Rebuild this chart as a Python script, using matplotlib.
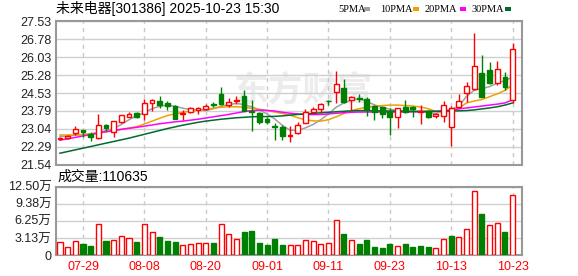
import matplotlib
matplotlib.use("Agg")
import matplotlib.pyplot as plt
from matplotlib.patches import Rectangle
import numpy as np

plt.rcParams["font.family"] = ["Liberation Sans", "Noto Sans CJK SC"]

title = "未来电器[301386] 2025-10-23 15:30"
vol_label = "成交量:110635"

dates = ["07-24", "07-25", "07-28", "07-29", "07-30", "07-31", "08-01", "08-04",
         "08-05", "08-06", "08-07", "08-08", "08-11", "08-12", "08-13", "08-14",
         "08-15", "08-18", "08-19", "08-20", "08-21", "08-22", "08-25", "08-26",
         "08-27", "08-28", "08-29", "09-01", "09-02", "09-03", "09-04", "09-05",
         "09-08", "09-09", "09-10", "09-11", "09-12", "09-15", "09-16", "09-17",
         "09-18", "09-19", "09-22", "09-23", "09-24", "09-25", "09-26", "09-29",
         "09-30", "10-09", "10-10", "10-13", "10-14", "10-15", "10-16", "10-17",
         "10-20", "10-21", "10-22", "10-23"]
tick_dates = ["07-29", "08-08", "08-20", "09-01", "09-11", "09-23", "10-13", "10-23"]

opens = [22.61, 22.67, 22.85, 22.97, 22.82, 22.66, 23.19, 22.92, 23.31, 23.55,
         23.68, 23.64, 24.10, 24.20, 24.10, 23.99, 23.65, 23.73, 23.83, 23.87,
         24.07, 24.48, 24.03, 24.18, 24.41, 23.78, 23.69, 23.43, 23.14, 23.11,
         22.74, 22.85, 23.30, 23.76, 23.85, 24.21, 24.56, 24.73, 24.24, 24.34,
         24.27, 23.99, 23.97, 23.80, 23.55, 23.97, 23.97, 23.74, 23.77, 23.58,
         23.56, 23.12, 23.96, 24.52, 24.69, 25.38, 25.50, 24.97, 25.19, 24.24]
highs = [22.71, 22.80, 23.16, 23.00, 22.89, 23.64, 23.22, 23.38, 23.63, 23.73,
         23.74, 24.28, 24.28, 24.41, 24.22, 24.02, 23.83, 23.97, 23.97, 24.08,
         24.14, 24.78, 24.33, 24.40, 24.68, 24.23, 23.74, 23.52, 23.30, 23.18,
         23.17, 23.31, 23.85, 23.96, 24.13, 24.26, 25.45, 25.12, 24.41, 24.49,
         24.35, 24.02, 23.99, 23.90, 23.92, 24.24, 23.99, 24.03, 23.83, 23.71,
         24.20, 24.00, 24.48, 24.99, 27.03, 26.12, 25.82, 25.87, 25.43, 26.64]
lows = [22.57, 22.60, 22.78, 22.70, 22.55, 22.63, 22.96, 22.71, 23.29, 23.52,
        23.47, 23.40, 23.80, 23.90, 23.83, 23.44, 23.41, 23.69, 23.64, 23.83,
        23.97, 24.05, 23.97, 24.08, 23.78, 22.93, 23.26, 23.26, 22.56, 22.58,
        22.48, 22.82, 23.27, 23.71, 23.69, 24.03, 24.13, 24.10, 23.83, 24.17,
        23.58, 23.41, 23.48, 22.78, 23.06, 23.69, 23.55, 23.24, 23.48, 23.48,
        23.34, 22.33, 23.89, 24.17, 24.66, 24.38, 24.90, 24.87, 24.66, 24.10]
closes = [22.67, 22.75, 23.02, 22.92, 22.70, 23.19, 23.07, 23.35, 23.60, 23.65,
          23.53, 24.10, 24.25, 24.04, 24.00, 23.44, 23.72, 23.90, 23.90, 24.01,
          24.04, 24.06, 24.16, 24.24, 23.79, 23.75, 23.34, 23.33, 23.12, 22.74,
          22.77, 23.19, 23.73, 23.88, 24.06, 24.19, 24.91, 24.17, 24.38, 24.27,
          23.83, 23.76, 23.66, 23.55, 23.90, 23.76, 23.85, 23.80, 23.53, 23.64,
          24.02, 23.92, 24.22, 24.81, 25.65, 24.38, 24.97, 25.52, 24.77, 26.36]

ma5 = [22.72, 22.74, 22.77, 22.80, 22.82, 22.90, 22.96, 23.05, 23.22, 23.42,
       23.58, 23.72, 23.88, 23.98, 24.03, 23.98, 23.90, 23.84, 23.82, 23.80,
       23.88, 23.98, 24.05, 24.10, 24.05, 23.96, 23.83, 23.66, 23.45, 23.18,
       22.98, 22.97, 23.08, 23.22, 23.42, 23.66, 23.94, 24.12, 24.24, 24.30,
       24.18, 24.04, 23.93, 23.86, 23.80, 23.78, 23.76, 23.75, 23.72, 23.68,
       23.78, 23.85, 23.98, 24.40, 24.65, 24.72, 24.80, 24.95, 25.05, 25.20]
ma10 = [22.78, 22.78, 22.79, 22.80, 22.82, 22.86, 22.91, 22.96, 23.01, 23.07,
        23.13, 23.24, 23.36, 23.48, 23.59, 23.67, 23.73, 23.78, 23.82, 23.86,
        23.90, 23.94, 23.96, 23.96, 23.94, 23.90, 23.85, 23.80, 23.74, 23.68,
        23.61, 23.50, 23.42, 23.37, 23.36, 23.42, 23.54, 23.68, 23.80, 23.88,
        23.94, 23.98, 24.01, 24.03, 24.03, 24.01, 23.99, 23.95, 23.88, 23.76,
        23.74, 23.78, 23.90, 24.12, 24.20, 24.26, 24.38, 24.50, 24.64, 24.87]
ma20 = [22.57, 22.62, 22.68, 22.74, 22.80, 22.86, 22.92, 22.97, 23.02, 23.06,
        23.10, 23.15, 23.20, 23.25, 23.29, 23.33, 23.36, 23.40, 23.44, 23.49,
        23.54, 23.59, 23.64, 23.70, 23.76, 23.80, 23.82, 23.81, 23.78, 23.73,
        23.69, 23.66, 23.64, 23.63, 23.64, 23.66, 23.69, 23.71, 23.73, 23.74,
        23.74, 23.74, 23.74, 23.74, 23.74, 23.74, 23.75, 23.75, 23.76, 23.77,
        23.79, 23.82, 23.87, 23.91, 23.95, 23.99, 24.03, 24.07, 24.12, 24.25]
ma30 = [22.02, 22.09, 22.16, 22.23, 22.30, 22.37, 22.44, 22.51, 22.58, 22.65,
        22.73, 22.81, 22.89, 22.97, 23.05, 23.12, 23.19, 23.25, 23.31, 23.36,
        23.40, 23.44, 23.47, 23.50, 23.52, 23.54, 23.55, 23.55, 23.56, 23.58,
        23.61, 23.64, 23.66, 23.68, 23.71, 23.73, 23.75, 23.77, 23.79, 23.80,
        23.80, 23.79, 23.79, 23.78, 23.78, 23.77, 23.77, 23.77, 23.77, 23.77,
        23.78, 23.78, 23.79, 23.80, 23.83, 23.87, 23.91, 23.96, 24.03, 24.12]

# volume in 万 shares, and whether the day counts as "up" (u) or "down" (d)
volumes = [2.43, 1.46, 2.55, 2.06, 1.70, 5.65, 2.61, 2.73, 3.46, 3.10,
           2.43, 5.65, 4.19, 3.34, 2.61, 2.43, 1.82, 2.00, 2.19, 2.19,
           2.25, 5.65, 3.88, 2.91, 4.13, 4.43, 2.25, 1.88, 2.97, 1.88,
           1.82, 1.82, 2.73, 2.55, 2.06, 2.25, 6.37, 3.88, 2.73, 2.06,
           2.79, 1.52, 1.34, 2.06, 1.70, 2.06, 1.52, 1.70, 1.52, 1.27,
           2.91, 3.52, 3.28, 4.73, 11.65, 7.53, 5.46, 5.83, 4.25, 11.06]
vol_dir = list("uuudduduuu" "duuddduuuu" "duuudddddd"
               "uuuuuuudud" "dddduddddu" "uduuuduudu")

price_ticks = [21.54, 22.29, 23.04, 23.79, 24.53, 25.28, 26.03, 26.78, 27.53]
vol_ticks = [0, 3.125, 6.25, 9.375, 12.5]
vol_tick_labels = ["0", "3.13万", "6.25万", "9.38万", "12.50万"]

ma_names = ["5PMA", "10PMA", "20PMA", "30PMA"]
ma_colors = ["#a0a0a0", "#f0a000", "#ff00ff", "#006a30"]

RED = "#ff0000"
GREEN = "#008000"
FRAME = "#999999"
W, H = 578, 276

fig = plt.figure(figsize=(W / 100, H / 100), dpi=100)
ax = fig.add_axes([55.7 / W, 1 - 164.7 / H, 466.6 / W, 143.4 / H])
axv = fig.add_axes([55.7 / W, 1 - 255 / H, 466.6 / W, 68.3 / H])

x = np.arange(len(dates))
tick_idx = [dates.index(d) for d in tick_dates]
o, h, l, c = map(np.array, (opens, highs, lows, closes))
up = c >= o

for a in (ax, axv):
    a.set_xlim(-0.56, 60.27)
    for s in a.spines.values():
        s.set_color(FRAME)
        s.set_linewidth(1.5)
    a.tick_params(length=0, labelsize=9, colors="#222222", pad=3)
    a.yaxis.grid(True, color="#d0d0d0", lw=1)
    a.set_axisbelow(True)
    for xi in tick_idx:
        a.axvline(xi, color="#c8c8c8", lw=1, ls=(0, (3, 3)), zorder=0.5)

# watermark
ax.text(0.53, 0.52, "东方财富", transform=ax.transAxes, fontsize=25,
        color="#ececec", ha="center", va="center", fontweight="bold",
        family=["Noto Sans CJK SC"], zorder=0.4)

# price panel
ax.set_ylim(price_ticks[0], price_ticks[-1])
ax.set_yticks(price_ticks)
ax.set_yticklabels([f"{t:.2f}" for t in price_ticks])
ax.set_xticks([])

for ma, col in zip([ma5, ma10, ma20, ma30], ma_colors):
    ax.plot(x, ma, color=col, lw=1.1, zorder=2)

cols = np.where(up, RED, GREEN)
ax.vlines(x, l, h, colors=cols, lw=1, zorder=3)
body = np.maximum(np.abs(c - o), 0.012)
ax.bar(x, body, bottom=np.minimum(o, c), width=0.62,
       color=np.where(up, "white", GREEN), edgecolor=cols, lw=1, zorder=4)

# volume panel
vup = np.array([v == "u" for v in vol_dir])
vcols = np.where(vup, RED, GREEN)
axv.bar(x, volumes, width=0.66, color=np.where(vup, "white", GREEN),
        edgecolor=vcols, lw=1, zorder=3)
axv.set_ylim(0, 12.5)
axv.set_yticks(vol_ticks)
axv.set_yticklabels(vol_tick_labels)
axv.set_xticks(tick_idx)
axv.set_xticklabels(tick_dates, color=RED, fontsize=9)
axv.tick_params(axis="x", pad=4)

# header texts
fig.text(56 / W, 1 - 9 / H, title, fontsize=10, va="center", ha="left")
fig.text(57 / W, 1 - 177 / H, vol_label, fontsize=10, va="center", ha="left")

text_x = [338, 380, 425, 472]
box_x = [364, 413, 460, 505]
for name, col, tx, bx in zip(ma_names, ma_colors, text_x, box_x):
    fig.text(tx / W, 1 - 9 / H, name, fontsize=7.5, va="center", ha="left",
             family=["Liberation Serif"])
    fig.patches.append(Rectangle((bx / W, 1 - 11 / H), 6 / W, 4 / H,
                                 transform=fig.transFigure, color=col, lw=0))

fig.savefig("out.png", dpi=100)
